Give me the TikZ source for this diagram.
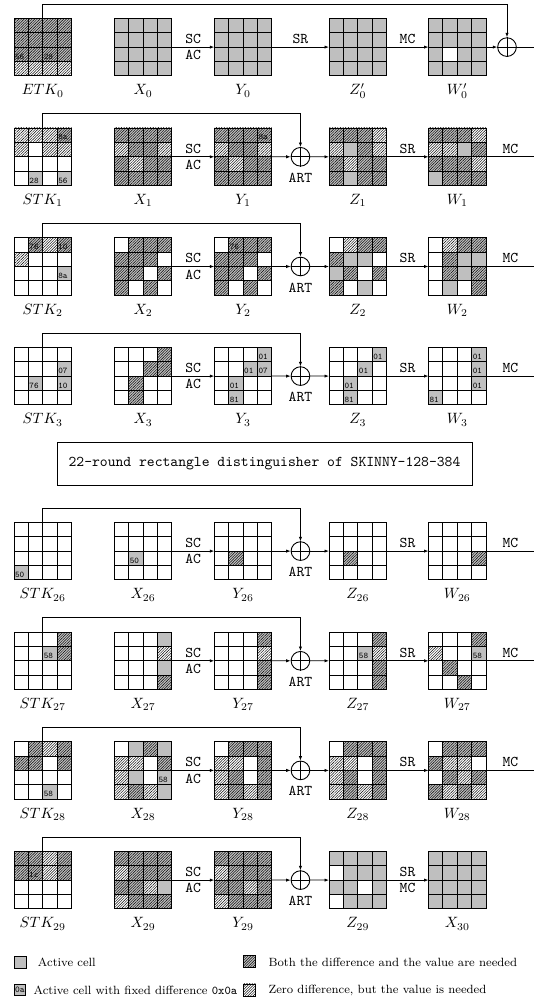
\documentclass[tikz,border=0pt]{standalone}
\usetikzlibrary{patterns.meta,arrows.meta,calc}
\definecolor{act}{gray}{0.75}
\newcommand\csz{14.4}
\tikzset{
  x=0.67pt, y=-0.67pt,
  gridnode/.style={minimum size=38.592pt,inner sep=0pt,outer sep=0pt},
  hatch/.style={pattern={Lines[angle=45,distance=1.25pt,line width=0.3pt]},pattern color=black},
  dhatch/.style={preaction={fill=act},hatch},
  gridl/.style={line width=0.6pt,line cap=rect},
  conn/.style={line width=0.5pt},
  arr/.style={conn,-{Latex[length=3pt,width=2.2pt]}},
  opnode/.style={circle,draw,line width=0.6pt,minimum size=12.5pt,inner sep=0pt},
  lab/.style={inner sep=0pt,anchor=base},
  opl/.style={font=\ttfamily,inner sep=2pt},
  numtxt/.style={font=\fontsize{5.8}{6}\selectfont\ttfamily,inner sep=0pt,anchor=base west},
  legtxt/.style={font=\footnotesize,inner sep=0pt,anchor=west},
}
\newcommand\cellgrid[5]{%
  \node[gridnode] (#1) at (#2+28.8,#3+28.8) {};
  \foreach \ct [count=\ci from 0] in {#4} {%
    \pgfmathtruncatemacro\gr{\ci/4}%
    \pgfmathtruncatemacro\gc{mod(\ci,4)}%
    \if\ct G\fill[act] (#2+\gc*\csz,#3+\gr*\csz) rectangle ++(\csz,\csz);\fi
    \if\ct D\fill[dhatch] (#2+\gc*\csz,#3+\gr*\csz) rectangle ++(\csz,\csz);\fi
    \if\ct L\fill[hatch] (#2+\gc*\csz,#3+\gr*\csz) rectangle ++(\csz,\csz);\fi
  }
  \foreach \k in {0,...,4} {%
    \draw[gridl] (#2+\k*\csz,#3) -- ++(0,57.6);
    \draw[gridl] (#2,#3+\k*\csz) -- ++(57.6,0);
  }
  \node[lab] (#1l) at (#2+28.8,#3+57.6+19) {#5};
}
\newcommand\cnum[4]{\node[numtxt] (#1n#2#3) at ($(#1.north west)+(#3*\csz+0.8,#2*\csz+\csz-2.4)$) {#4};}
\newcommand\oplusat[2]{%
  \node[opnode] (#1) at #2 {};
  \draw[line width=0.6pt] (#1.north) -- (#1.south) (#1.west) -- (#1.east);
}
\newcommand\stdconn[6]{% K X Y Z W id
  \oplusat{o#6}{($(#3.east)!0.5!(#4.west)$)}
  \node[opl] (art#6) at ($(o#6)+(0,21)$) {ART};
  \draw[arr] (#2.east) -- node[opl,above](sc#6){SC} node[opl,below](ac#6){AC} (#3.west);
  \draw[arr] (#3.east) -- (o#6.west);
  \draw[arr] (o#6.east) -- (#4.west);
  \draw[arr] (#4.east) -- node[opl,above](sr#6){SR} (#5.west);
  \coordinate (e#6) at ($(#5.east)+(48.5,0)$);
  \draw[conn] (#5.east) -- node[opl,above](mc#6){MC} (e#6);
  \coordinate (k#6) at ($(#1.center)+(0,-43.2)$);
  \draw[arr] (#1.center) -- (k#6) -| (o#6.north);
}
\begin{document}
\begin{tikzpicture}
\useasboundingbox (0,0) rectangle (534,1001);
% ---------- Round 0
\cellgrid{ETK0}{14}{18.3}{D,D,D,D,D,D,D,D,D,D,D,D,L,L,L,L}{$ETK_0$}
\cellgrid{X0}{114.3}{18.3}{G,G,G,G,G,G,G,G,G,G,G,G,G,G,G,G}{$X_0$}
\cellgrid{Y0}{214.3}{18.3}{G,G,G,G,G,G,G,G,G,G,G,G,G,G,G,G}{$Y_0$}
\cellgrid{Z0p}{329}{18.3}{G,G,G,G,G,G,G,G,G,G,G,G,G,G,G,G}{$Z'_0$}
\cellgrid{W0p}{428.5}{18.3}{G,G,G,G,G,G,G,G,G,W,G,G,G,G,G,G}{$W'_0$}
\cnum{ETK0}{2}{0}{56}\cnum{ETK0}{2}{2}{28}
\oplusat{o0}{(507,47.1)}
\draw[arr] (X0.east) -- node[opl,above](sc0){SC} node[opl,below](ac0){AC} (Y0.west);
\draw[arr] (Y0.east) -- node[opl,above](sr0){SR} (Z0p.west);
\draw[arr] (Z0p.east) -- node[opl,above](mc0){MC} (W0p.west);
\draw[arr] (W0p.east) -- (o0.west);
\coordinate (e0) at (534,47.1);
\draw[conn] (o0.east) -- (e0);
\coordinate (k0) at (42.8,4);
\draw[arr] (ETK0.center) -- (k0) -| (o0.north);
% ---------- Round 1
\cellgrid{K1}{14}{128}{L,L,L,D,L,W,L,L,W,W,W,W,W,G,W,G}{$STK_1$}
\cellgrid{X1}{114.3}{128}{D,D,D,D,L,D,D,L,D,L,D,D,D,D,D,D}{$X_1$}
\cellgrid{Y1}{214.3}{128}{D,D,D,D,L,D,D,L,D,L,D,D,D,D,D,D}{$Y_1$}
\cellgrid{Z1}{329}{128}{D,D,D,L,L,G,D,L,D,L,D,D,D,G,D,D}{$Z_1$}
\cellgrid{W1}{428.5}{128}{D,D,D,L,L,L,G,D,D,D,D,L,G,D,D,D}{$W_1$}
\cnum{K1}{0}{3}{8a}\cnum{K1}{3}{1}{28}\cnum{K1}{3}{3}{56}
\cnum{Y1}{0}{3}{8a}
\stdconn{K1}{X1}{Y1}{Z1}{W1}{1}
% ---------- Round 2
\cellgrid{K2}{14}{237.7}{W,D,L,D,L,W,W,W,W,W,W,G,W,W,W,W}{$STK_2$}
\cellgrid{X2}{114.3}{237.7}{W,D,D,D,D,D,D,W,D,D,W,D,D,W,D,W}{$X_2$}
\cellgrid{Y2}{214.3}{237.7}{W,D,D,D,D,D,D,W,D,D,W,D,D,W,D,W}{$Y_2$}
\cellgrid{Z2}{329}{237.7}{W,L,D,D,D,G,G,W,G,D,W,D,D,W,G,W}{$Z_2$}
\cellgrid{W2}{428.5}{237.7}{W,L,D,D,W,D,G,G,W,D,G,D,W,G,W,D}{$W_2$}
\cnum{K2}{0}{1}{76}\cnum{K2}{0}{3}{10}\cnum{K2}{2}{3}{8a}
\cnum{Y2}{0}{1}{76}
\stdconn{K2}{X2}{Y2}{Z2}{W2}{2}
% ---------- Round 3
\cellgrid{K3}{14}{347.3}{W,W,W,W,W,W,W,G,W,G,W,G,W,W,W,W}{$STK_3$}
\cellgrid{X3}{114.3}{347.3}{W,W,W,D,W,W,D,D,W,D,W,W,W,D,W,W}{$X_3$}
\cellgrid{Y3}{214.3}{347.3}{W,W,W,G,W,W,G,G,W,G,W,W,W,G,W,W}{$Y_3$}
\cellgrid{Z3}{329}{347.3}{W,W,W,G,W,W,G,W,W,G,W,W,W,G,W,W}{$Z_3$}
\cellgrid{W3}{428.5}{347.3}{W,W,W,G,W,W,W,G,W,W,W,G,G,W,W,W}{$W_3$}
\cnum{K3}{1}{3}{07}\cnum{K3}{2}{1}{76}\cnum{K3}{2}{3}{10}
\cnum{Y3}{0}{3}{01}\cnum{Y3}{1}{2}{01}\cnum{Y3}{1}{3}{07}\cnum{Y3}{2}{1}{01}\cnum{Y3}{3}{1}{81}
\cnum{Z3}{0}{3}{01}\cnum{Z3}{1}{2}{01}\cnum{Z3}{2}{1}{01}\cnum{Z3}{3}{1}{81}
\cnum{W3}{0}{3}{01}\cnum{W3}{1}{3}{01}\cnum{W3}{2}{3}{01}\cnum{W3}{3}{0}{81}
\stdconn{K3}{X3}{Y3}{Z3}{W3}{3}
% ---------- Box
\node[draw,line width=0.5pt,minimum width=278.05pt,minimum height=28.8pt,inner sep=0pt,font=\ttfamily] (dist) at (264.5,463.5) {22-round rectangle distinguisher of SKINNY-128-384};
% ---------- Round 26
\cellgrid{K26}{14}{522.3}{W,W,W,W,W,W,W,W,W,W,W,W,G,W,W,W}{$STK_{26}$}
\cellgrid{X26}{114.3}{522.3}{W,W,W,W,W,W,W,W,W,G,W,W,W,W,W,W}{$X_{26}$}
\cellgrid{Y26}{214.3}{522.3}{W,W,W,W,W,W,W,W,W,D,W,W,W,W,W,W}{$Y_{26}$}
\cellgrid{Z26}{329}{522.3}{W,W,W,W,W,W,W,W,W,D,W,W,W,W,W,W}{$Z_{26}$}
\cellgrid{W26}{428.5}{522.3}{W,W,W,W,W,W,W,W,W,W,W,D,W,W,W,W}{$W_{26}$}
\cnum{K26}{3}{0}{50}\cnum{X26}{2}{1}{50}
\stdconn{K26}{X26}{Y26}{Z26}{W26}{26}
% ---------- Round 27
\cellgrid{K27}{14}{632}{W,W,W,D,W,W,G,D,W,W,W,W,W,W,W,W}{$STK_{27}$}
\cellgrid{X27}{114.3}{632}{W,W,W,G,W,W,W,L,W,W,W,G,W,W,W,D}{$X_{27}$}
\cellgrid{Y27}{214.3}{632}{W,W,W,D,W,W,W,L,W,W,W,D,W,W,W,D}{$Y_{27}$}
\cellgrid{Z27}{329}{632}{W,W,W,D,W,W,G,L,W,W,W,D,W,W,W,D}{$Z_{27}$}
\cellgrid{W27}{428.5}{632}{W,W,W,D,L,W,W,G,W,D,W,W,W,W,D,W}{$W_{27}$}
\cnum{K27}{1}{2}{58}\cnum{Z27}{1}{2}{58}\cnum{W27}{1}{3}{58}
\stdconn{K27}{X27}{Y27}{Z27}{W27}{27}
% ---------- Round 28
\cellgrid{K28}{14}{741.6}{W,D,L,D,D,D,W,D,W,W,W,W,W,W,G,W}{$STK_{28}$}
\cellgrid{X28}{114.3}{741.6}{W,G,D,G,L,L,W,D,L,G,W,G,L,D,L,G}{$X_{28}$}
\cellgrid{Y28}{214.3}{741.6}{W,D,D,D,L,L,W,D,L,D,W,D,L,D,L,D}{$Y_{28}$}
\cellgrid{Z28}{329}{741.6}{W,D,D,D,L,L,W,D,L,D,W,D,L,D,L,D}{$Z_{28}$}
\cellgrid{W28}{428.5}{741.6}{W,D,D,D,D,L,L,W,W,D,L,D,D,L,D,L}{$W_{28}$}
\cnum{K28}{3}{2}{58}\cnum{X28}{2}{3}{58}
\stdconn{K28}{X28}{Y28}{Z28}{W28}{28}
% ---------- Round 29
\cellgrid{K29}{14}{851.3}{D,D,L,D,D,D,L,D,W,W,W,W,W,W,W,W}{$STK_{29}$}
\cellgrid{X29}{114.3}{851.3}{D,D,D,D,L,D,D,D,D,D,L,G,L,D,D,D}{$X_{29}$}
\cellgrid{Y29}{214.3}{851.3}{D,D,D,D,L,D,D,D,D,D,L,D,L,D,D,D}{$Y_{29}$}
\cellgrid{Z29}{329}{851.3}{G,G,G,G,W,G,G,G,G,G,W,G,W,G,G,G}{$Z_{29}$}
\cellgrid{X30}{428.5}{851.3}{G,G,G,G,G,G,G,G,G,G,G,G,G,G,G,G}{$X_{30}$}
\cnum{K29}{1}{1}{1c}
\oplusat{o29}{($(Y29.east)!0.5!(Z29.west)$)}
\node[opl] (art29) at ($(o29)+(0,21)$) {ART};
\draw[arr] (X29.east) -- node[opl,above](sc29){SC} node[opl,below](ac29){AC} (Y29.west);
\draw[arr] (Y29.east) -- (o29.west);
\draw[arr] (o29.east) -- (Z29.west);
\draw[arr] (Z29.east) -- node[opl,above](sr29){SR} node[opl,below](mc29){MC} (X30.west);
\coordinate (k29) at ($(K29.center)+(0,-43.2)$);
\draw[arr] (K29.center) -- (k29) -| (o29.north);
% ---------- Legend
\node[draw,line width=0.5pt,fill=act,minimum size=8.2pt,inner sep=0pt] (lg1) at (20.5,962.5) {};
\node[legtxt] (lt1) at (37.7,962.5) {Active cell};
\node[draw,line width=0.5pt,dhatch,minimum size=8.2pt,inner sep=0pt] (lg2) at (249.5,961.5) {};
\node[legtxt] (lt2) at (268.3,962) {Both the difference and the value are needed};
\node[draw,line width=0.5pt,fill=act,minimum width=7.6pt,minimum height=7pt,inner sep=0pt,font=\fontsize{6}{6}\selectfont\ttfamily] (lg3) at (19.8,990) {0a};
\node[legtxt] (lt3) at (33.3,990) {Active cell with fixed difference \texttt{0x0a}};
\node[draw,line width=0.5pt,hatch,minimum size=8.2pt,inner sep=0pt] (lg4) at (249.5,990) {};
\node[legtxt] (lt4) at (268.3,990) {Zero difference, but the value is needed};
\end{tikzpicture}
\end{document}
